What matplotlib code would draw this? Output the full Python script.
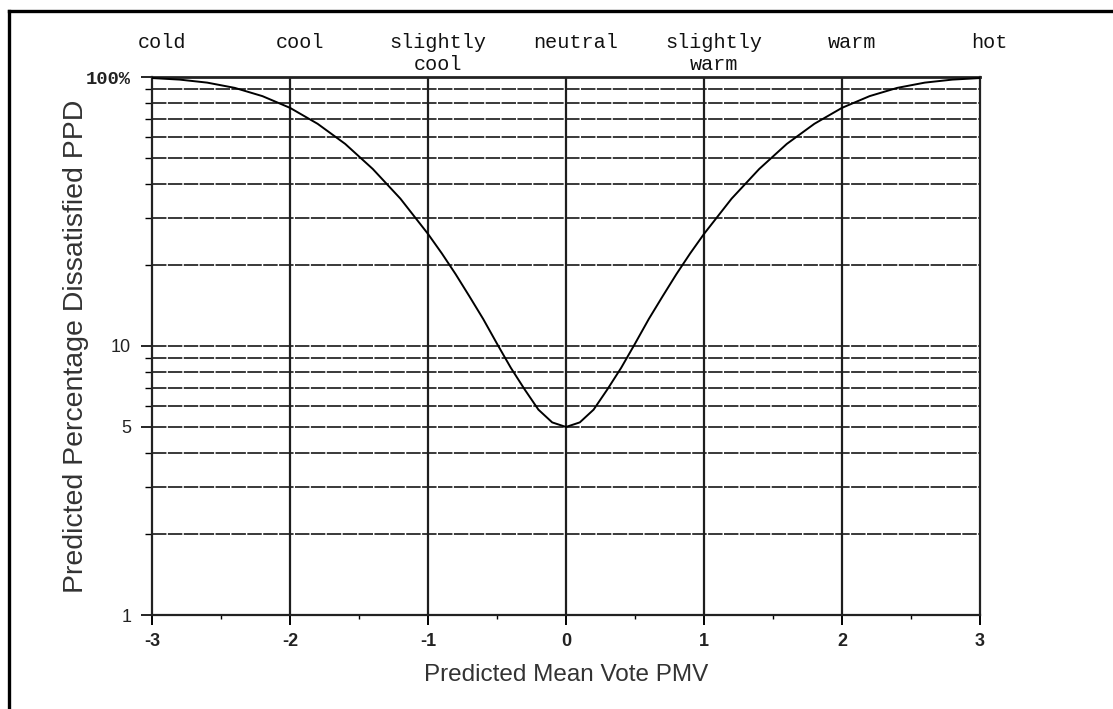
import matplotlib
matplotlib.use('Agg')
import matplotlib.pyplot as plt
from matplotlib.lines import Line2D
from matplotlib.transforms import blended_transform_factory

# PMV vs PPD values
pmv = [-3.0, -2.8, -2.6, -2.4, -2.2, -2.0, -1.8, -1.6, -1.4, -1.2,
       -1.0, -0.9, -0.8, -0.7, -0.6, -0.5, -0.4, -0.3, -0.2, -0.1,
       0.0, 0.1, 0.2, 0.3, 0.4, 0.5, 0.6, 0.7, 0.8, 0.9, 1.0,
       1.2, 1.4, 1.6, 1.8, 2.0, 2.2, 2.4, 2.6, 2.8, 3.0]
ppd = [99.1, 97.8, 95.3, 91.1, 84.9, 76.8, 67.0, 56.4, 45.5, 35.3,
       26.1, 22.1, 18.5, 15.3, 12.6, 10.2, 8.3, 6.9, 5.8, 5.2,
       5.0, 5.2, 5.8, 6.9, 8.3, 10.2, 12.6, 15.3, 18.5, 22.1, 26.1,
       35.3, 45.5, 56.4, 67.0, 76.8, 84.9, 91.1, 95.3, 97.8, 99.1]

sensation = ['cold', 'cool', 'slightly\ncool', 'neutral', 'slightly\nwarm', 'warm', 'hot']
x_ticks = [-3, -2, -1, 0, 1, 2, 3]
x_minor = [-2.5, -1.5, -0.5, 0.5, 1.5, 2.5]
y_grid = [2, 3, 4, 5, 6, 7, 8, 9, 10, 20, 30, 40, 50, 60, 70, 80, 90]
y_labels = {100: '100%', 10: '10', 5: '5', 1: '1'}

W, H = 1113, 709
fig = plt.figure(figsize=(W / 100, H / 100), dpi=100)
ax = fig.add_axes([152 / W, 1 - 615 / H, (980 - 152) / W, (615 - 77) / H])

ax.set_yscale('log')
ax.set_xlim(-3, 3)
ax.set_ylim(1, 100)

for y in y_grid:
    ax.axhline(y, color='#2a2a2a', lw=1.3, ls=(0, (8, 0.8)), zorder=1)
for x in x_ticks[1:-1]:
    ax.axvline(x, color='#1e1e1e', lw=1.6, zorder=1)

ax.plot(pmv, ppd, color='black', lw=1.4, zorder=3)

for side in ['top', 'bottom', 'left', 'right']:
    ax.spines[side].set_color('#222222')
    ax.spines[side].set_linewidth(1.6)
ax.spines['top'].set_linewidth(2.0)

ax.set_xticks(x_ticks)
ax.set_xticklabels([str(v) for v in x_ticks], fontsize=13, fontweight='bold',
                   family='Liberation Sans', color='#222222')
ax.set_xticks(x_minor, minor=True)
ax.tick_params(axis='x', which='major', length=7, width=1.4, direction='out', pad=6)
ax.tick_params(axis='x', which='minor', length=3, width=1.0, direction='out')

ax.set_yticks(list(y_labels.keys()))
ax.set_yticklabels(list(y_labels.values()), fontsize=13, family='Liberation Sans',
                   color='#222222')
ax.set_yticks(y_grid, minor=True)
ax.yaxis.set_minor_formatter(plt.NullFormatter())
ax.tick_params(axis='y', which='major', length=8, width=1.2, direction='out', pad=7)
ax.tick_params(axis='y', which='minor', length=5, width=1.0, direction='out')
for lab in ax.get_yticklabels():
    if lab.get_text() == '100%':
        lab.set_family('Liberation Mono')
        lab.set_fontweight('bold')
        lab.set_fontsize(13.5)

ax.set_xlabel('Predicted Mean Vote PMV', fontsize=17.5, family='Liberation Sans',
              color='#333333', labelpad=8)
ax.set_ylabel('Predicted Percentage Dissatisfied PPD', fontsize=20.5,
              family='Liberation Sans', color='#333333')
ax.yaxis.set_label_coords(-76 / (980 - 152), 0.5)
ax.xaxis.set_label_coords(0.5, -(675 - 615) / (615 - 77))
ax.xaxis.label.set_va('center')
ax.yaxis.label.set_va('center')

trans = blended_transform_factory(ax.transData, fig.transFigure)
for x, s in zip(x_ticks, sensation):
    ax.text(x + 0.07, 1 - 33 / H, s, transform=trans, ha='center', va='top',
            family='Liberation Mono', fontsize=14.5, color='#111111',
            linespacing=1.2, multialignment='center')

# outer frame (left and top edges only)
fig.add_artist(Line2D([9 / W, 9 / W], [0, 1 - 11 / H], transform=fig.transFigure,
                      color='black', lw=2.4))
fig.add_artist(Line2D([9 / W, 1], [1 - 11 / H, 1 - 11 / H], transform=fig.transFigure,
                      color='black', lw=2.4))

fig.savefig('out.png', dpi=100)
